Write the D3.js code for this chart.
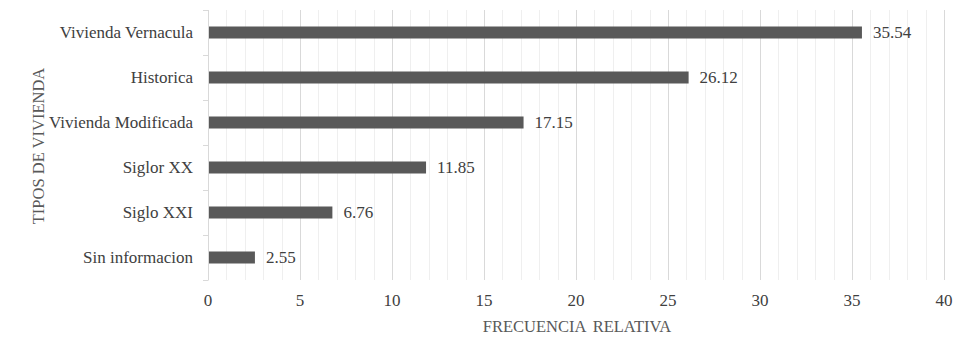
<!DOCTYPE html>
<meta charset="utf-8">
<style>
body { margin: 0; background: #fff; }
text { font-family: "Liberation Serif", "Times New Roman", serif; }
.lbl { font-size: 17px; fill: #404040; }
.ttl { font-size: 16.5px; fill: #595959; }
</style>
<body>
<script src="https://cdnjs.cloudflare.com/ajax/libs/d3/7.8.5/d3.min.js"></script>
<script>

// data
var categories = ["Vivienda Vernacula", "Historica", "Vivienda Modificada", "Siglor XX", "Siglo XXI", "Sin informacion"];
var values = [35.54, 26.12, 17.15, 11.85, 6.76, 2.55];
var xTicks = [0, 5, 10, 15, 20, 25, 30, 35, 40];

var data = categories.map(function(c, i) { return {cat: c, val: values[i]}; });

var margin = {top: 10, right: 36, bottom: 62, left: 208},
    width = 980 - margin.left - margin.right,
    height = 342 - margin.top - margin.bottom;

var svg = d3.select("body").append("svg")
    .attr("width", 980)
    .attr("height", 342);

var g = svg.append("g")
    .attr("transform", "translate(" + margin.left + "," + margin.top + ")");

var x = d3.scaleLinear().domain([0, 40]).range([0, width]);
var y = d3.scaleBand().domain(categories).range([0, height]).paddingInner(0).paddingOuter(0);

// minor gridlines
g.append("g")
  .selectAll("line")
  .data(d3.range(1, 41).filter(function(d) { return d % 5 !== 0; }))
  .enter().append("line")
    .attr("x1", function(d) { return Math.round(x(d)) + 0.5; })
    .attr("x2", function(d) { return Math.round(x(d)) + 0.5; })
    .attr("y1", 0).attr("y2", height)
    .attr("stroke", "#efefef");

// major gridlines
g.append("g")
  .selectAll("line")
  .data(xTicks.slice(1))
  .enter().append("line")
    .attr("x1", function(d) { return Math.round(x(d)) + 0.5; })
    .attr("x2", function(d) { return Math.round(x(d)) + 0.5; })
    .attr("y1", 0).attr("y2", height)
    .attr("stroke", "#d9d9d9");

// bars
var bh = 12;
g.selectAll(".bar")
    .data(data)
  .enter().append("rect")
    .attr("class", "bar")
    .attr("x", 0)
    .attr("y", function(d) { return y(d.cat) + y.bandwidth() / 2 - bh / 2; })
    .attr("width", function(d) { return x(d.val); })
    .attr("height", bh)
    .attr("fill", "#595959");

// value labels
g.selectAll(".val")
    .data(data)
  .enter().append("text")
    .attr("class", "lbl")
    .attr("x", function(d) { return x(d.val) + 11; })
    .attr("y", function(d) { return y(d.cat) + y.bandwidth() / 2; })
    .attr("dy", "0.35em")
    .text(function(d) { return d.val.toFixed(2); });

// y axis line + ticks at category boundaries
var yax = g.append("g");
yax.append("line")
    .attr("x1", 0.5).attr("x2", 0.5)
    .attr("y1", 0).attr("y2", height)
    .attr("stroke", "#d9d9d9");
yax.selectAll(".tk")
    .data(d3.range(categories.length + 1))
  .enter().append("line")
    .attr("x1", -5).attr("x2", 0.5)
    .attr("y1", function(i) { return Math.round(i * y.step()) + 0.5; })
    .attr("y2", function(i) { return Math.round(i * y.step()) + 0.5; })
    .attr("stroke", "#d9d9d9");

yax.selectAll(".cl")
    .data(categories)
  .enter().append("text")
    .attr("class", "lbl")
    .attr("x", -15)
    .attr("y", function(d) { return y(d) + y.bandwidth() / 2; })
    .attr("dy", "0.35em")
    .attr("text-anchor", "end")
    .text(function(d) { return d; });

// x tick labels
g.selectAll(".xl")
    .data(xTicks)
  .enter().append("text")
    .attr("class", "lbl")
    .attr("x", function(d) { return x(d); })
    .attr("y", height + 20)
    .attr("dy", "0.35em")
    .attr("text-anchor", "middle")
    .text(function(d) { return d; });

// axis titles
svg.append("text")
    .attr("class", "ttl")
    .attr("x", 577)
    .attr("y", 326)
    .attr("dy", "0.35em")
    .attr("text-anchor", "middle")
    .style("word-spacing", "3px")
    .text("FRECUENCIA RELATIVA");

svg.append("text")
    .attr("class", "ttl")
    .attr("transform", "translate(38,146) rotate(-90)")
    .attr("dy", "0.35em")
    .attr("text-anchor", "middle")
    .text("TIPOS DE VIVIENDA");

</script>
</body>
